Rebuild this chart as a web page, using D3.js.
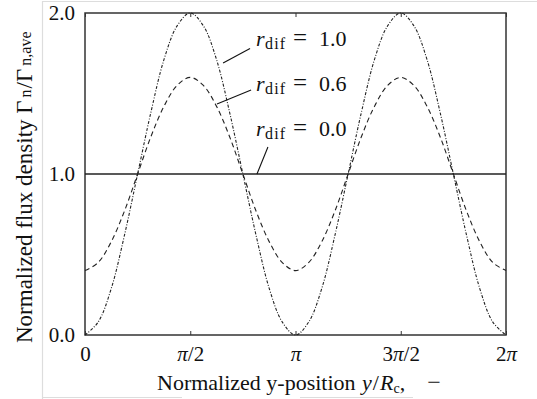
<!DOCTYPE html>
<html>
<head>
<meta charset="utf-8">
<script src="https://cdn.jsdelivr.net/npm/d3@7"></script>
<style>
  body { margin: 0; background: #fff; }
  svg text { font-family: "Liberation Serif", "DejaVu Serif", serif; fill: #111; }
</style>
</head>
<body>
<div id="fluxChart"></div>
<script>
{
    /*#########
      Data
    #########*/

    // y-position in units of pi (step pi/16)
    const xPos = [0, 0.0625, 0.125, 0.1875, 0.25, 0.3125, 0.375, 0.4375, 0.5,
        0.5625, 0.625, 0.6875, 0.75, 0.8125, 0.875, 0.9375, 1.0,
        1.0625, 1.125, 1.1875, 1.25, 1.3125, 1.375, 1.4375, 1.5,
        1.5625, 1.625, 1.6875, 1.75, 1.8125, 1.875, 1.9375, 2.0];

    // normalized flux density
    const flux10 = [0, 0.08, 0.29, 0.62, 1.0, 1.38, 1.71, 1.92, 2.0,
        1.92, 1.71, 1.38, 1.0, 0.62, 0.29, 0.08, 0,
        0.08, 0.29, 0.62, 1.0, 1.38, 1.71, 1.92, 2.0,
        1.92, 1.71, 1.38, 1.0, 0.62, 0.29, 0.08, 0];
    const flux06 = [0.4, 0.45, 0.58, 0.77, 1.0, 1.23, 1.42, 1.55, 1.6,
        1.55, 1.42, 1.23, 1.0, 0.77, 0.58, 0.45, 0.4,
        0.45, 0.58, 0.77, 1.0, 1.23, 1.42, 1.55, 1.6,
        1.55, 1.42, 1.23, 1.0, 0.77, 0.58, 0.45, 0.4];
    const flux00 = [1.0, 1.0];
    const flux00Pos = [0, 2.0];

    const xTicks = [0, 0.5, 1, 1.5, 2];
    const xTickLabels = [["0"], ["π", "/2"], ["π"], ["3", "π", "/2"], ["2", "π"]];
    const yTicks = [0, 1, 2];

    const series = [
        { name: "1.0", xs: xPos, ys: flux10, dash: "3,1.6,1,1.6" },
        { name: "0.6", xs: xPos, ys: flux06, dash: "5,3.5" },
        { name: "0.0", xs: flux00Pos, ys: flux00, dash: null }
    ];

    /*#########
      Global
    #########*/
    const margin = { top: 13, right: 31, bottom: 64, left: 85 };
    const width = 537 - margin.left - margin.right;
    const height = 399 - margin.top - margin.bottom;
    const serif = '"Liberation Serif", "DejaVu Serif", serif';

    const root = d3.select('#fluxChart')
        .append('svg')
        .attr('width', 537)
        .attr('height', 399)
        .attr('font-family', serif);

    // faint screenshot frame
    root.append('path')
        .attr('d', 'M42.5,399V1.5H537 M42.5,397.5H182 M300,397.5H413')
        .attr('fill', 'none')
        .attr('stroke', '#ddd')
        .attr('stroke-width', 1.2);

    const svg = root.append('g')
        .attr('transform', 'translate(' + margin.left + ',' + margin.top + ')');

    /*############
    Axis Creation
    ############*/
    const x = d3.scaleLinear().domain([0, 2]).range([0, width]);
    const y = d3.scaleLinear().domain([0, 2]).range([height, 0]);

    // frame
    svg.append('rect')
        .attr('x', 0).attr('y', 0)
        .attr('width', width).attr('height', height)
        .attr('fill', 'none')
        .attr('stroke', '#333')
        .attr('stroke-width', 1.5);

    const xAxis = svg.append('g')
        .attr('transform', 'translate(0,' + height + ')')
        .call(d3.axisBottom(x).tickValues(xTicks).tickSizeInner(-4).tickSizeOuter(0).tickPadding(11))
        .attr('font-family', serif);
    xAxis.select('.domain').remove();
    xAxis.selectAll('line').attr('stroke', '#333');
    xAxis.selectAll('text')
        .attr('font-size', 21)
        .attr('dy', '0.71em')
        .text(null)
        .each(function(d, i) {
            const t = d3.select(this);
            xTickLabels[i].forEach(s => {
                t.append('tspan')
                    .attr('font-style', s === 'π' ? 'italic' : 'normal')
                    .text(s);
            });
        });

    const xTop = svg.append('g')
        .call(d3.axisTop(x).tickValues(xTicks).tickSizeInner(-4).tickSizeOuter(0).tickFormat(''));
    xTop.select('.domain').remove();
    xTop.selectAll('line').attr('stroke', '#333');

    const yAxis = svg.append('g')
        .call(d3.axisLeft(y).tickValues(yTicks).tickSize(0).tickPadding(10).tickFormat(d3.format('.1f')))
        .attr('font-family', serif);
    yAxis.select('.domain').remove();
    yAxis.selectAll('text').attr('font-size', 21).attr('fill', '#111');

    /*###########
    Line Creation
    ###########*/
    const line = d3.line()
        .x(d => x(d[0]))
        .y(d => y(d[1]))
        .curve(d3.curveCatmullRom);

    series.forEach(s => {
        svg.append('path')
            .datum(s.xs.map((v, i) => [v, s.ys[i]]))
            .attr('d', line)
            .attr('fill', 'none')
            .attr('stroke', '#222')
            .attr('stroke-width', s.dash ? 1.1 : 1.3)
            .attr('stroke-dasharray', s.dash);
    });

    /*#########
    Annotations
    #########*/
    const notes = [
        { label: "1.0", tx: 171, ty: 33, from: [0.656, 1.69], to: [0.784, 1.78] },
        { label: "0.6", tx: 171, ty: 78, from: [0.627, 1.435], to: [0.789, 1.522] },
        { label: "0.0", tx: 171, ty: 123, from: [0.817, 1.0], to: [0.869, 1.168] }
    ];
    notes.forEach(n => {
        svg.append('line')
            .attr('x1', x(n.from[0])).attr('y1', y(n.from[1]))
            .attr('x2', x(n.to[0])).attr('y2', y(n.to[1]))
            .attr('stroke', '#111')
            .attr('stroke-width', 1.1);
        const t = svg.append('text')
            .attr('x', n.tx).attr('y', n.ty)
            .attr('font-size', 22);
        t.append('tspan').attr('font-style', 'italic').text('r');
        t.append('tspan').attr('x', n.tx + 9).attr('dy', 3).attr('font-size', 16)
            .attr('letter-spacing', 1.2).text('dif');
        t.append('tspan').attr('x', n.tx + 37).attr('dy', -3).attr('font-size', 25).text('=');
        t.append('tspan').attr('x', n.tx + 63).text(n.label);
    });

    /*#########
    Axis Titles
    #########*/
    const xt = root.append('text')
        .attr('x', 157)
        .attr('y', 390)
        .attr('font-size', 22);
    xt.append('tspan').text('Normalized y-position ');
    xt.append('tspan').attr('dx', 1).attr('font-style', 'italic').text('y');
    xt.append('tspan').attr('dx', 1).text('/');
    xt.append('tspan').attr('dx', 1).attr('font-style', 'italic').text('R');
    xt.append('tspan').attr('font-size', 14).attr('dy', 3).text('c');
    xt.append('tspan').attr('dy', -3).text(',');
    xt.append('tspan').attr('dx', 22).attr('font-size', 24).text('−');

    const yt = root.append('text')
        .attr('transform', 'translate(32,343) rotate(-90)')
        .attr('font-size', 23);
    yt.append('tspan').text('Normalized flux density Γ');
    yt.append('tspan').attr('dx', 3).attr('dy', -1).attr('font-size', 16).text('n');
    yt.append('tspan').attr('dx', 1).attr('dy', 1).text('/Γ');
    yt.append('tspan').attr('dx', 3).attr('dy', -1).attr('font-size', 16).text('n,ave');
}
</script>
</body>
</html>
